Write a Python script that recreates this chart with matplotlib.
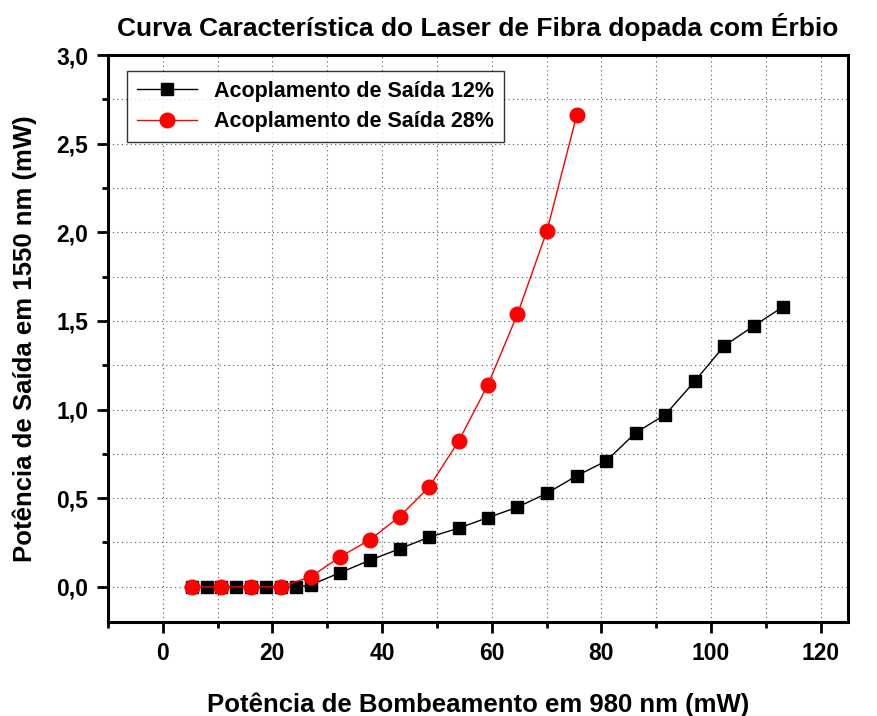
import matplotlib.pyplot as plt
from matplotlib.ticker import MultipleLocator, FuncFormatter

# pump power (mW) and output power (mW)
pump_12 = [5.3, 8.0, 10.7, 13.4, 16.1, 18.8, 21.5, 24.3, 27.0, 32.4, 37.8,
           43.2, 48.6, 54.0, 59.3, 64.7, 70.1, 75.5, 80.9, 86.3, 91.7, 97.1,
           102.4, 107.8, 113.2]
out_12 = [0.0, 0.0, 0.0, 0.0, 0.0, 0.0, 0.0, 0.0, 0.01, 0.08, 0.15,
          0.214, 0.28, 0.331, 0.39, 0.449, 0.528, 0.626, 0.71, 0.87, 0.972,
          1.162, 1.359, 1.472, 1.581]

pump_28 = [5.3, 10.7, 16.1, 21.5, 27.0, 32.4, 37.8, 43.2, 48.6, 54.0, 59.3,
           64.7, 70.1, 75.5]
out_28 = [0.0, 0.0, 0.0, 0.0, 0.056, 0.17, 0.265, 0.396, 0.563, 0.823,
          1.139, 1.538, 2.01, 2.66]

labels = ['Acoplamento de Saída 12%', 'Acoplamento de Saída 28%']

plt.rcParams['font.family'] = ['Liberation Sans', 'DejaVu Sans']

fig = plt.figure(figsize=(8.77, 7.16), dpi=100)
ax = fig.add_axes([0.123, 0.131, 0.844, 0.792])

ax.plot(pump_12, out_12, '-', color='black', lw=1, marker='s', markersize=8.5,
        label=labels[0], zorder=3)
ax.plot(pump_28, out_28, '-', color='red', lw=1, marker='o', markersize=10.5,
        label=labels[1], zorder=4)

ax.set_xlim(-10, 125)
ax.set_ylim(-0.2, 3.0)
ax.xaxis.set_major_locator(MultipleLocator(20))
ax.xaxis.set_minor_locator(MultipleLocator(10))
ax.yaxis.set_major_locator(MultipleLocator(0.5))
ax.yaxis.set_minor_locator(MultipleLocator(0.25))
ax.yaxis.set_major_formatter(FuncFormatter(lambda v, p: f'{v:.1f}'.replace('.', ',')))

ax.grid(True, which='both', linestyle=(0, (1, 3)), color='#555555', lw=0.8)
ax.set_axisbelow(True)

for s in ax.spines.values():
    s.set_linewidth(2.2)
ax.tick_params(which='major', direction='out', length=8, width=2, labelsize=16.5,
               pad=6)
ax.tick_params(which='minor', direction='out', length=4, width=2)
for t in ax.get_xticklabels() + ax.get_yticklabels():
    t.set_fontweight('bold')

ax.set_xlabel('Potência de Bombeamento em 980 nm (mW)', fontsize=18.5,
              fontweight='bold', labelpad=20)
ax.set_ylabel('Potência de Saída em 1550 nm (mW)', fontsize=18.5,
              fontweight='bold', labelpad=14)
ax.set_title('Curva Característica do Laser de Fibra dopada com Érbio',
             fontsize=19, fontweight='bold', pad=14)

leg = ax.legend(loc='upper left', bbox_to_anchor=(0.026, 0.972), borderaxespad=0,
                fancybox=False, edgecolor='black',
                prop={'weight': 'bold', 'size': 15.5},
                handlelength=2.8, borderpad=0.45, labelspacing=0.45)
leg.get_frame().set_linewidth(1)

fig.savefig('out.png', dpi=100)
